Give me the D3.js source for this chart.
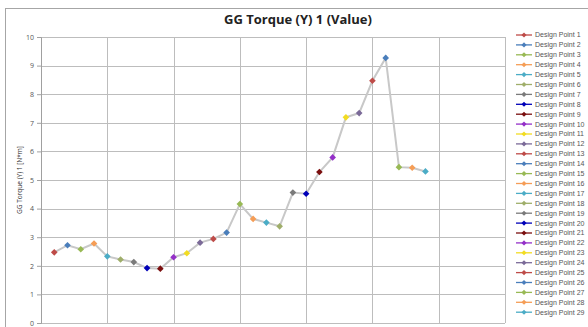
<!DOCTYPE html>
<html>
<head>
<meta charset="utf-8">
<script src="https://cdn.jsdelivr.net/npm/d3@7"></script>
<style>
  body { margin: 0; background: #fff; }
  svg { display: block; font-family: "Open Sans", "DejaVu Sans", sans-serif; }
</style>
</head>
<body>
<div id="chart"></div>
<script>
// Data
const points = d3.range(1, 30);
const torque = [2.47, 2.72, 2.58, 2.78, 2.33, 2.22, 2.13, 1.92, 1.90, 2.30,
                2.44, 2.81, 2.94, 3.16, 4.16, 3.64, 3.51, 3.38, 4.56, 4.52,
                5.28, 5.79, 7.19, 7.34, 8.47, 9.27, 5.45, 5.43, 5.30];
const palette = ["#BE4B48", "#4A7EBB", "#98B954", "#F59D56", "#4BACC6", "#9FAE6A",
                 "#7A7A7A", "#0000B8", "#7A0F0F", "#9430C8", "#F2DC22", "#7B6A98"];
const yTicks = d3.range(0, 11);

const W = 588, H = 327;
const margin = {top: 37, right: 83, bottom: 4, left: 41};
const width = W - margin.left - margin.right,
      height = H - margin.top - margin.bottom;

const svg = d3.select("#chart")
    .append("svg")
    .attr("width", W)
    .attr("height", H);

// outer chart border
svg.append("rect")
    .attr("x", 5.5).attr("y", 8.5)
    .attr("width", W).attr("height", H)
    .attr("fill", "none")
    .attr("stroke", "#a6a6a6");

// Title
svg.append("text")
    .attr("x", 298)
    .attr("y", 24)
    .attr("text-anchor", "middle")
    .style("font-size", "13px")
    .style("font-weight", "bold")
    .style("fill", "#222")
    .text("GG Torque (Y) 1 (Value)");

const g = svg.append("g")
    .attr("transform", `translate(${margin.left},${margin.top})`);

const x = d3.scaleLinear().domain([0, 35]).range([0, width]);
const y = d3.scaleLinear().domain([0, 10]).range([height, 0]);

// Grid lines
g.selectAll("line.hgrid")
    .data(yTicks)
    .enter().append("line")
    .attr("class", "hgrid")
    .attr("x1", 0).attr("x2", width)
    .attr("y1", d => Math.round(y(d)) + 0.5)
    .attr("y2", d => Math.round(y(d)) + 0.5)
    .style("stroke", "#bdbdbd");

g.selectAll("line.vgrid")
    .data(d3.range(0, 36, 5))
    .enter().append("line")
    .attr("class", "vgrid")
    .attr("x1", d => Math.round(x(d)) + 0.5)
    .attr("x2", d => Math.round(x(d)) + 0.5)
    .attr("y1", 0).attr("y2", height)
    .style("stroke", "#bdbdbd");

// Y axis
const yAxis = g.append("g")
    .call(d3.axisLeft(y).tickValues(yTicks).tickSize(4).tickPadding(3));
yAxis.select(".domain").attr("stroke", "#a0a0a0");
yAxis.selectAll(".tick line").attr("stroke", "#a0a0a0");
yAxis.selectAll("text")
    .style("font-size", "7px")
    .style("fill", "#555")
    .style("font-family", "'Open Sans', sans-serif");

// Y axis label
svg.append("text")
    .attr("transform", `translate(22,${margin.top + height / 2}) rotate(-90)`)
    .attr("text-anchor", "middle")
    .style("font-size", "6.5px")
    .style("fill", "#333")
    .text("GG Torque (Y) 1 [N*m]");

// Connecting line
const line = d3.line()
    .x((d, i) => x(points[i]))
    .y(d => y(d));

g.append("path")
    .datum(torque)
    .attr("fill", "none")
    .attr("stroke", "#c8c8c8")
    .attr("stroke-width", 2)
    .attr("d", line);

// Markers: square turned 45 degrees, like the spreadsheet diamond
const diamond = d3.symbol().type(d3.symbolSquare).size(22);
g.selectAll("path.pt")
    .data(torque)
    .enter().append("path")
    .attr("class", "pt")
    .attr("d", diamond)
    .attr("transform", (d, i) => `translate(${x(points[i])},${y(d)}) rotate(45)`)
    .attr("fill", (d, i) => palette[i % palette.length]);

// Legend
const legend = svg.append("g").attr("transform", "translate(516,35)");
const row = legend.selectAll("g")
    .data(points)
    .enter().append("g")
    .attr("transform", (d, i) => `translate(0,${i * 9.9})`);

row.append("line")
    .attr("x1", 0).attr("x2", 16)
    .attr("stroke", (d, i) => palette[i % palette.length])
    .attr("stroke-width", 1.3);

row.append("path")
    .attr("d", d3.symbol().type(d3.symbolSquare).size(13))
    .attr("transform", "translate(8,0) rotate(45)")
    .attr("fill", (d, i) => palette[i % palette.length]);

row.append("text")
    .attr("x", 19)
    .attr("dy", "0.35em")
    .style("font-size", "7px")
    .style("font-family", "'Liberation Sans', Arial, sans-serif")
    .style("fill", "#555")
    .text(d => "Design Point " + d);
</script>
</body>
</html>
